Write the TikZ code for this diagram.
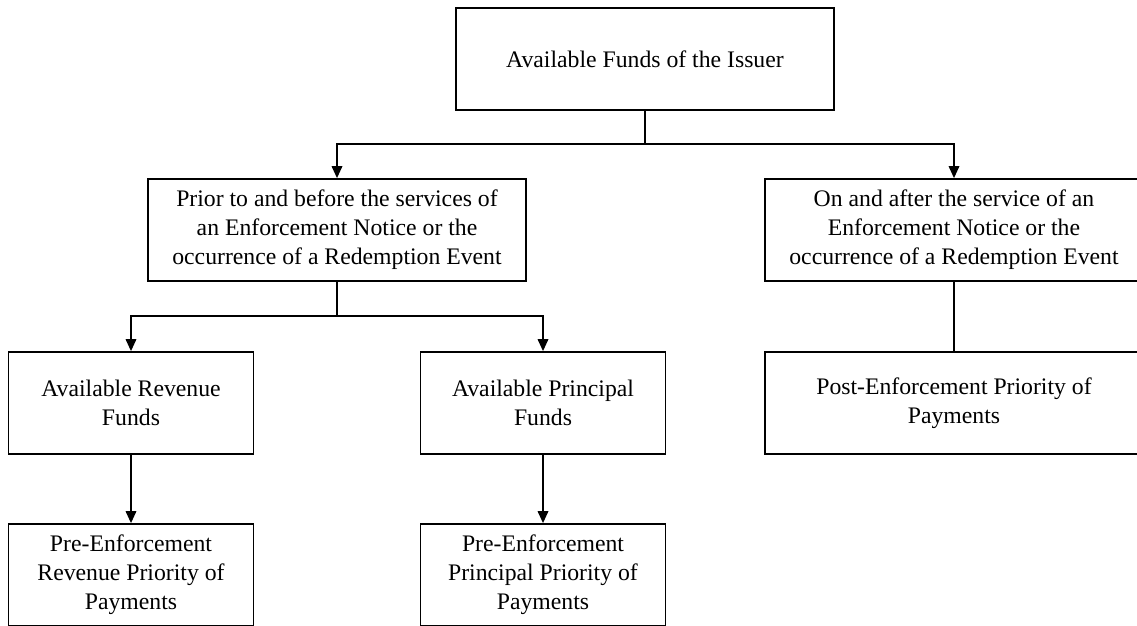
\documentclass[tikz,border=0pt]{standalone}
\usepackage{fontspec}
\setmainfont{Liberation Serif}
\usetikzlibrary{arrows.meta}
\begin{document}
\begin{tikzpicture}[x=0.02cm, y=-0.02cm, line width=1pt,
        every node/.style={font=\fontsize{13.5}{16.5}\selectfont, align=center},
        fundbox/.style={draw, inner sep=0pt, minimum height=2.04cm},
        widebox/.style={fundbox, minimum width=7.56cm},
        smallbox/.style={fundbox, minimum width=4.9cm},
        arr/.style={-{Triangle[length=2.4mm, width=2.1mm]}}]
        \useasboundingbox (0,0) rectangle (1137,626);
        % boxes
        \node[widebox] (funds) at (645,59) {Available Funds of the Issuer};
        \node[widebox] (prior) at (337,230) {Prior to and before the services of\\an Enforcement Notice or the\\occurrence of a Redemption Event};
        \node[widebox] (after) at (954,230) {On and after the service of an\\Enforcement Notice or the\\occurrence of a Redemption Event};
        \node[smallbox] (revenue) at (131,403) {Available Revenue\\Funds};
        \node[smallbox] (principal) at (543,403) {Available Principal\\Funds};
        \node[widebox] (post) at (954,403) {Post-Enforcement Priority of\\Payments};
        \node[smallbox] (prerev) at (131,575) {Pre-Enforcement\\Revenue Priority of\\Payments};
        \node[smallbox] (preprin) at (543,575) {Pre-Enforcement\\Principal Priority of\\Payments};
        % connectors
        \coordinate (bus1) at (645,144);
        \coordinate (bus2) at (337,316);
        \draw (funds.south) -- (bus1);
        \foreach \to in {prior,after} \draw[arr] (bus1) -| (\to.north);
        \draw (prior.south) -- (bus2);
        \foreach \to in {revenue,principal} \draw[arr] (bus2) -| (\to.north);
        \draw (after.south) -- (post.north);
        \draw[arr] (revenue.south) -- (prerev.north);
        \draw[arr] (principal.south) -- (preprin.north);
    \end{tikzpicture}
\end{document}
